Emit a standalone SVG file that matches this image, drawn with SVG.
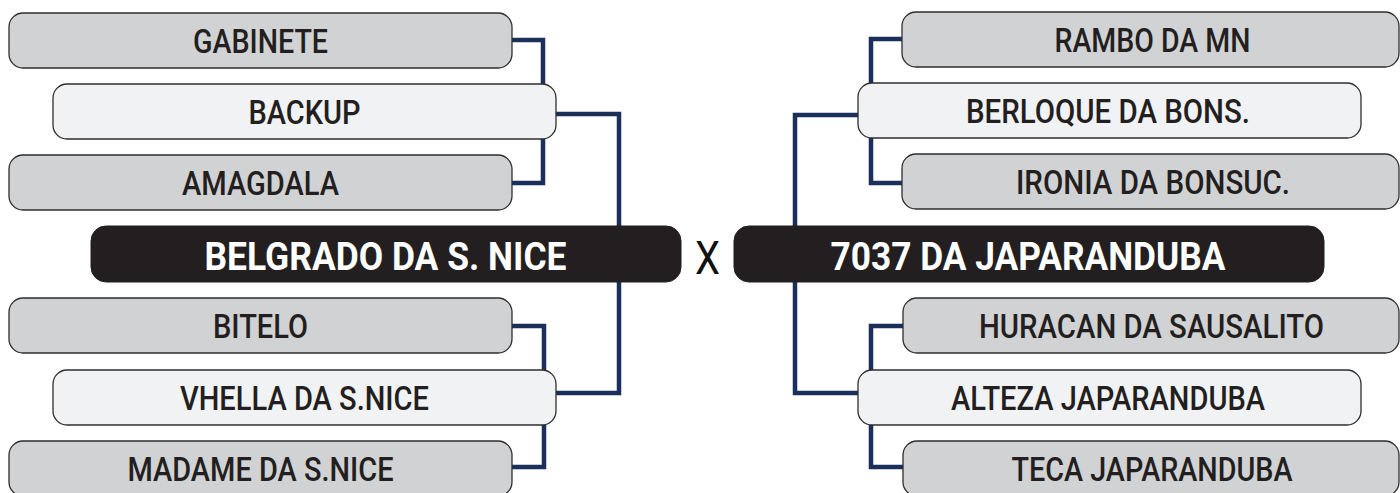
<svg xmlns="http://www.w3.org/2000/svg" width="1400" height="493" viewBox="0 0 1400 493">
<style>
.g{fill:#d1d2d4;stroke:#2e2e2e;stroke-width:1.3}
.l{fill:#f1f2f4;stroke:#2e2e2e;stroke-width:1.3}
.b{fill:#231f20;stroke:#231f20;stroke-width:1}
.t{font-family:Roboto,"DejaVu Sans Condensed","Liberation Sans",sans-serif;font-size:32.5px;font-weight:500;fill:#231f20;text-anchor:middle}
.tb{font-family:Roboto,"DejaVu Sans Condensed","Liberation Sans",sans-serif;font-size:39px;font-weight:bold;fill:#ffffff;text-anchor:middle}
.x{font-family:Roboto,"DejaVu Sans Condensed","Liberation Sans",sans-serif;font-size:46px;font-weight:400;fill:#111;text-anchor:middle}
.c{fill:none;stroke:#1b2f5b;stroke-width:4.5;stroke-linejoin:miter}
</style>
<rect width="1400" height="493" fill="#ffffff"/>
<g id="connectors">
<path class="c" d="M512,40 H543 V183 H512"/>
<path class="c" d="M556,114 H619 V393 H556"/>
<path class="c" d="M512,326 H544 V467 H512"/>
<path class="c" d="M902,39 H871 V183 H902"/>
<path class="c" d="M858,115 H795 V393 H858"/>
<path class="c" d="M903,326 H871 V467 H903"/>
</g>
<g id="gabinete"><rect class="g" x="9" y="13" width="503" height="55" rx="14"/><text class="t" x="260.5" y="53" textLength="135" lengthAdjust="spacingAndGlyphs">GABINETE</text></g>
<g id="backup"><rect class="l" x="53" y="84" width="503" height="55" rx="14"/><text class="t" x="304.5" y="124" textLength="112" lengthAdjust="spacingAndGlyphs">BACKUP</text></g>
<g id="amagdala"><rect class="g" x="9" y="155" width="503" height="55" rx="14"/><text class="t" x="260.5" y="195" textLength="157" lengthAdjust="spacingAndGlyphs">AMAGDALA</text></g>
<g id="belgrado"><rect class="b" x="91" y="226" width="590" height="56" rx="15"/><text class="tb" x="385.5" y="269.5" textLength="362" lengthAdjust="spacingAndGlyphs">BELGRADO DA S. NICE</text></g>
<g id="bitelo"><rect class="g" x="9" y="298" width="503" height="55" rx="14"/><text class="t" x="260.5" y="338" textLength="95" lengthAdjust="spacingAndGlyphs">BITELO</text></g>
<g id="vhella"><rect class="l" x="53" y="370" width="503" height="55" rx="14"/><text class="t" x="304.5" y="410" textLength="249" lengthAdjust="spacingAndGlyphs">VHELLA DA S.NICE</text></g>
<g id="madame"><rect class="g" x="9" y="441" width="503" height="55" rx="14"/><text class="t" x="260.5" y="481" textLength="266" lengthAdjust="spacingAndGlyphs">MADAME DA S.NICE</text></g>
<g id="versus"><text class="x" x="707.5" y="274" textLength="25" lengthAdjust="spacingAndGlyphs">X</text></g>
<g id="rambo"><rect class="g" x="902" y="12" width="497" height="55" rx="14"/><text class="t" x="1152.5" y="52" textLength="196" lengthAdjust="spacingAndGlyphs">RAMBO DA MN</text></g>
<g id="berloque"><rect class="l" x="858" y="83" width="503" height="55" rx="14"/><text class="t" x="1108" y="123" textLength="284" lengthAdjust="spacingAndGlyphs">BERLOQUE DA BONS.</text></g>
<g id="ironia"><rect class="g" x="902" y="154" width="497" height="55" rx="14"/><text class="t" x="1153" y="194" textLength="274" lengthAdjust="spacingAndGlyphs">IRONIA DA BONSUC.</text></g>
<g id="japaranduba7037"><rect class="b" x="734" y="226" width="590" height="56" rx="15"/><text class="tb" x="1028" y="269.5" textLength="395" lengthAdjust="spacingAndGlyphs">7037 DA JAPARANDUBA</text></g>
<g id="huracan"><rect class="g" x="903" y="298" width="496" height="55" rx="14"/><text class="t" x="1151.5" y="338" textLength="345" lengthAdjust="spacingAndGlyphs">HURACAN DA SAUSALITO</text></g>
<g id="alteza"><rect class="l" x="858" y="370" width="503" height="55" rx="14"/><text class="t" x="1108" y="410" textLength="314" lengthAdjust="spacingAndGlyphs">ALTEZA JAPARANDUBA</text></g>
<g id="teca"><rect class="g" x="903" y="441" width="496" height="55" rx="14"/><text class="t" x="1152" y="481" textLength="281" lengthAdjust="spacingAndGlyphs">TECA JAPARANDUBA</text></g>
</svg>
